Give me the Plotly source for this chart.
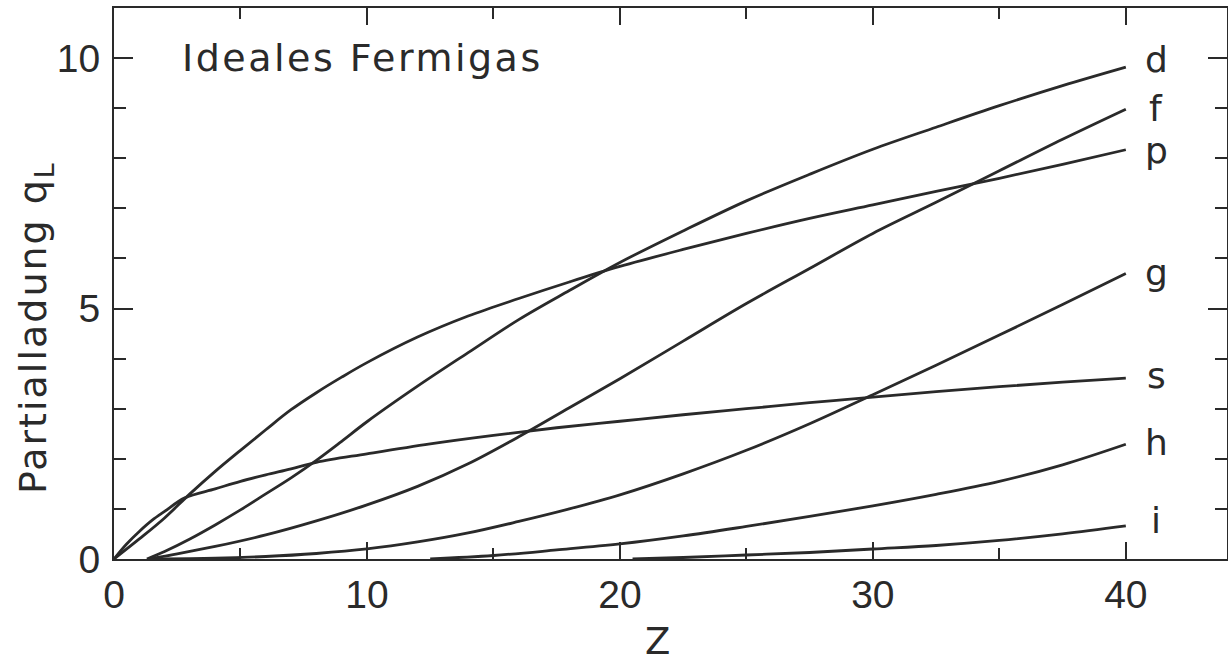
import plotly.graph_objects as go

# ---- data ----
s_x = [0, 0.5, 1, 1.5, 2, 2.8, 4, 5, 6, 7, 8, 10, 12.5, 15, 17.5, 20, 22.5, 25, 27.5, 30, 32.5, 35, 37.5, 40]
s_y = [0, 0.3, 0.55, 0.77, 0.95, 1.22, 1.4, 1.55, 1.68, 1.8, 1.93, 2.1, 2.3, 2.47, 2.62, 2.75, 2.88, 3.0, 3.12, 3.23, 3.34, 3.44, 3.53, 3.61]

p_x = [0, 1, 2, 3, 4, 5, 6, 7, 8, 9, 10, 12, 14, 16, 18, 20, 22.5, 25, 27.5, 30, 32.5, 35, 37.5, 40]
p_y = [0, 0.4, 0.82, 1.3, 1.75, 2.17, 2.58, 2.98, 3.32, 3.63, 3.92, 4.43, 4.85, 5.2, 5.53, 5.84, 6.18, 6.5, 6.8, 7.07, 7.34, 7.6, 7.88, 8.17]

d_x = [1.3, 2, 3, 4, 5, 6, 7, 8, 9, 10, 12, 14, 16, 18, 20, 22.5, 25, 27.5, 30, 32.5, 35, 37.5, 40]
d_y = [0, 0.15, 0.4, 0.68, 0.98, 1.3, 1.62, 1.97, 2.35, 2.74, 3.45, 4.12, 4.78, 5.36, 5.92, 6.55, 7.15, 7.68, 8.18, 8.62, 9.05, 9.45, 9.82]

f_x = [1.4, 2.5, 4, 6, 8, 10, 12, 14, 16, 18, 20, 22.5, 25, 27.5, 30, 32.5, 35, 37.5, 40]
f_y = [0, 0.1, 0.25, 0.48, 0.76, 1.08, 1.45, 1.9, 2.44, 3.02, 3.6, 4.35, 5.1, 5.8, 6.5, 7.12, 7.75, 8.38, 8.98]

g_x = [1.6, 4, 6, 8, 10, 12, 14, 16, 18, 20, 22.5, 25, 27.5, 30, 32.5, 35, 37.5, 40]
g_y = [0, 0.015, 0.05, 0.11, 0.2, 0.34, 0.52, 0.75, 1.0, 1.28, 1.7, 2.17, 2.7, 3.28, 3.87, 4.47, 5.08, 5.7]

h_x = [12.5, 15, 17.5, 20, 22.5, 25, 27.5, 30, 32.5, 35, 37.5, 40]
h_y = [0, 0.07, 0.18, 0.3, 0.46, 0.65, 0.85, 1.06, 1.29, 1.55, 1.88, 2.29]

i_x = [20.5, 22.5, 25, 27.5, 30, 32.5, 35, 37.5, 40]
i_y = [0, 0.03, 0.08, 0.13, 0.2, 0.27, 0.37, 0.5, 0.66]

curve_names = ["d", "f", "p", "g", "s", "h", "i"]
curve_x = [d_x, f_x, p_x, g_x, s_x, h_x, i_x]
curve_y = [d_y, f_y, p_y, g_y, s_y, h_y, i_y]

x_ticks = [0, 10, 20, 30, 40]
y_ticks = [0, 5, 10]

# label nudges in pixels (styling only)
label_yshift = [8, 1, 0, 1, 3, 2, 6]

INK = "#2a2a2a"
TEXT_FONT = "DejaVu Sans"
TICK_FONT = "Liberation Sans"

fig = go.Figure()
for name, xs, ys, dy in zip(curve_names, curve_x, curve_y, label_yshift):
    fig.add_trace(go.Scatter(x=xs, y=ys, mode="lines", name=name,
                             line=dict(color=INK, width=2.8, shape="spline", smoothing=1.0),
                             showlegend=False, hoverinfo="skip"))
    fig.add_annotation(x=41.2, y=ys[-1], yshift=dy, text=name, showarrow=False,
                       xanchor="center", yanchor="middle", height=40, valign="middle",
                       font=dict(family=TEXT_FONT, size=36, color=INK))

fig.add_annotation(x=2.6, y=10.0,
                   text='<span style="letter-spacing:2.5px">Ideales Fermigas</span>',
                   showarrow=False, xanchor="left", yanchor="middle",
                   font=dict(family=TEXT_FONT, size=38, color=INK))

fig.add_annotation(xref="paper", yref="paper", x=0.488, y=-0.150, text="Z",
                   showarrow=False, xanchor="center", yanchor="middle",
                   font=dict(family=TEXT_FONT, size=37, color=INK))

fig.add_annotation(xref="paper", yref="paper", x=-0.071, y=0.421,
                   text='<span style="letter-spacing:2px">Partialladung q<sub>L</sub></span>',
                   textangle=-90, showarrow=False, xanchor="center", yanchor="middle",
                   font=dict(family=TEXT_FONT, size=38, color=INK))

axis_common = dict(showgrid=False, zeroline=False, showline=True, linecolor=INK,
                   linewidth=2, mirror="allticks", ticks="inside", tickcolor=INK,
                   tickwidth=2, automargin=False,
                   tickfont=dict(family=TICK_FONT, size=39, color=INK))

fig.update_xaxes(range=[0, 44], tickvals=x_ticks, ticklen=17,
                 minor=dict(dtick=5, tick0=0, ticklen=11, ticks="inside",
                            tickcolor=INK, tickwidth=2, showgrid=False),
                 ticklabelstandoff=0, **axis_common)
fig.update_yaxes(range=[0, 11], tickvals=y_ticks, ticklen=19,
                 minor=dict(dtick=1, tick0=0, ticklen=12, ticks="inside",
                            tickcolor=INK, tickwidth=2, showgrid=False),
                 ticklabelstandoff=4, **axis_common)

fig.update_layout(width=1228, height=665,
                  margin=dict(l=114, r=1, t=8, b=106),
                  paper_bgcolor="white", plot_bgcolor="white")

post = (
    "document.documentElement.style.margin='0';"
    "document.body.style.margin='0';"
    "document.body.style.overflow='hidden';"
    "var gd=document.getElementById('{plot_id}');"
    "Plotly.relayout(gd,{width:1228,height:665});"
)
fig.write_html("out.html", post_script=post, config={"displayModeBar": False})
